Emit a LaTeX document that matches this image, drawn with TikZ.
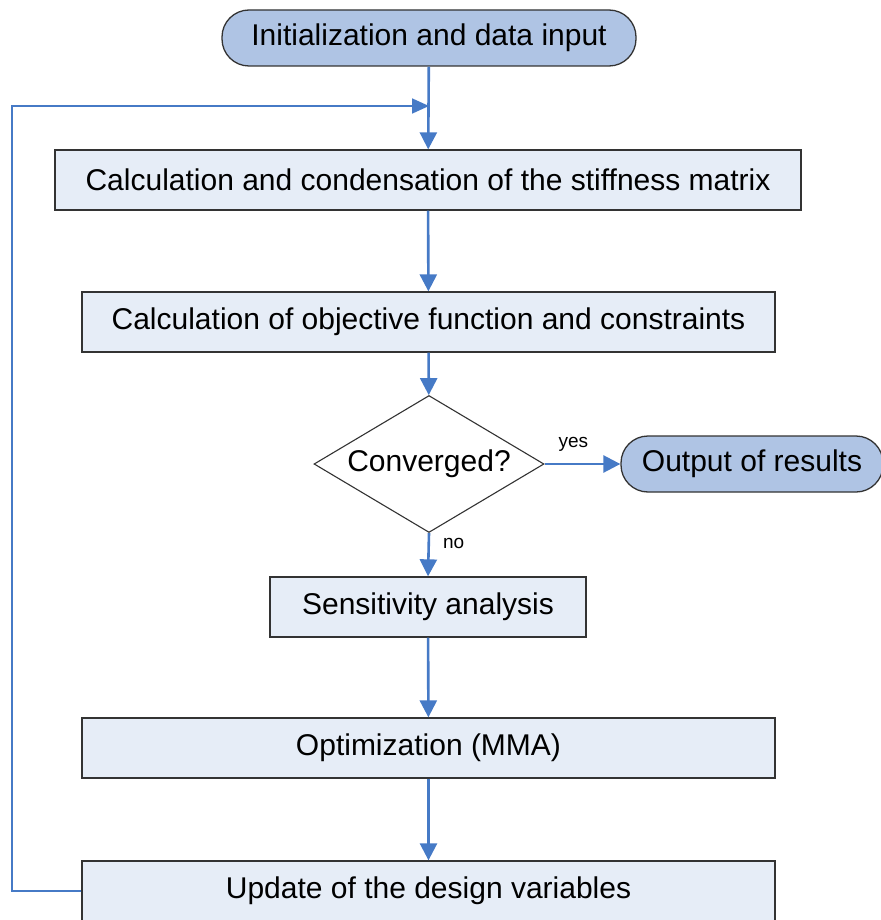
\documentclass[tikz,border=0pt]{standalone}
\usepackage{fontspec}
\setmainfont{Liberation Sans}
\usetikzlibrary{arrows.meta,shapes.geometric}
\definecolor{flowblue}{RGB}{70,122,198}
\definecolor{termfill}{RGB}{175,196,228}
\definecolor{boxfill}{RGB}{230,237,247}
\tikzset{
 term/.style={draw=black!80,line width=1.3pt,fill=termfill,rounded corners=27pt,minimum height=56pt,inner sep=0pt,font=\fontsize{30}{34}\selectfont},
 procbox/.style={draw=black!80,line width=1.3pt,fill=boxfill,minimum height=60pt,inner sep=0pt,font=\fontsize{30}{34}\selectfont},
 decide/.style={diamond,draw=black!80,line width=1.1pt,fill=white,aspect=1.68,minimum width=230pt,minimum height=137pt,inner sep=0pt,font=\fontsize{30}{34}\selectfont},
 flow/.style={draw=flowblue,line width=2.6pt,-{Triangle[length=17pt,width=17pt]}},
 back/.style={draw=flowblue,line width=1.8pt,-{Triangle[length=17pt,width=15pt]}},
 tag/.style={font=\fontsize{19}{22}\selectfont,inner sep=0pt}
}
\begin{document}
\begin{tikzpicture}[x=1pt,y=-1pt]
 \useasboundingbox (0,0) rectangle (880,920);
 \node[term,minimum width=414pt] (init) at (429,38) {Initialization and data input};
 \node[procbox,minimum width=746pt] (stiff) at (428,180) {Calculation and condensation of the stiffness matrix};
 \node[procbox,minimum width=693pt] (obj) at (428.5,322) {Calculation of objective function and constraints};
 \node[decide] (conv) at (429,464) {Converged?};
 \node[term,minimum width=262pt] (out) at (752,464) {Output of results};
 \node[procbox,minimum width=316pt] (sens) at (428,607) {Sensitivity analysis};
 \node[procbox,minimum width=693pt] (mma) at (428.5,748) {Optimization (MMA)};
 \node[procbox,minimum width=693pt] (upd) at (428.5,891) {Update of the design variables};
 \coordinate (join) at (429,106);
 \coordinate (corner) at (12,106);
 \draw[flow] (init) -- (stiff);
 \draw[back] (upd.west) -| (corner) -- (join);
 \draw[flow] (stiff) -- (obj);
 \draw[flow] (obj) -- (conv);
 \draw[flow] (conv.east) -- node[tag,above=11pt,pos=0.38] (yes) {yes} (out.west);
 \draw[flow] (conv.south) -- node[tag,right=13pt,pos=0.25] (no) {no} (sens.north);
 \draw[flow] (sens) -- (mma);
 \draw[flow] (mma) -- (upd);
\end{tikzpicture}
\end{document}
